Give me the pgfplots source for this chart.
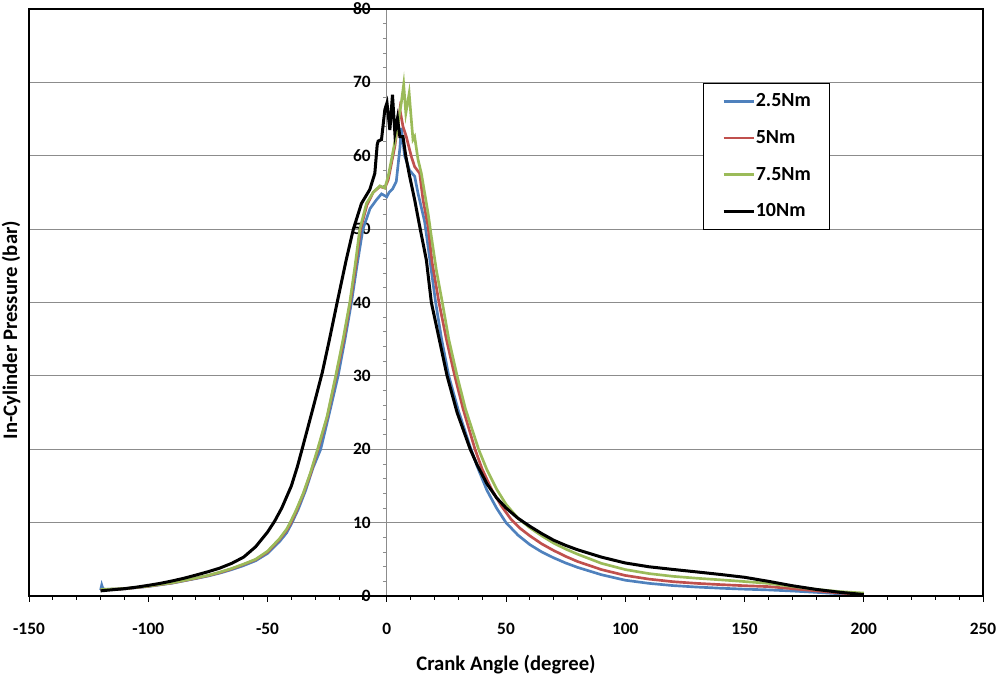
\documentclass[border=0pt]{standalone}
\usepackage{fontspec}
\setmainfont{Carlito}
\usepackage{pgfplots}
\pgfplotsset{compat=1.18}
\usetikzlibrary{calc}
\definecolor{s25}{HTML}{4F81BD}
\definecolor{s50}{HTML}{C0504D}
\definecolor{s75}{HTML}{9BBB59}
\definecolor{gridgray}{HTML}{8C8C8C}
\begin{document}
\begin{tikzpicture}
\begin{axis}[
  scale only axis, width=715.5pt, height=440.25pt,
  xmin=-150, xmax=250, ymin=0, ymax=80,
  axis x line=bottom, axis y line=center,
  hide obscured x ticks=false, hide obscured y ticks=false,
  x axis line style={-, black, line width=1.5pt},
  y axis line style={-, gridgray, line width=0.75pt},
  xtick distance=50, ytick distance=10,
  minor x tick num=4, minor y tick num=4,
  tick align=outside,
  major tick length=4.5pt, minor tick length=3pt,
  x tick style={black, line width=0.75pt},
  y tick style={gridgray, line width=0.6pt},
  ymajorgrids, major grid style={draw=gridgray, line width=0.75pt},
  /pgf/number format/assume math mode=true,
  tick label style={font=\fontsize{13}{15}\selectfont\bfseries},
  xticklabel style={yshift=-12pt},
  yticklabel style={xshift=-4pt},
  xlabel={Crank Angle (degree)},
  ylabel={In-Cylinder Pressure (bar)},
  every axis x label/.style={at={(rel axis cs:0.5,0)}, anchor=north, yshift=-41pt,
    font=\fontsize{15.5}{18}\selectfont\bfseries},
  every axis y label/.style={at={(rel axis cs:0,0.453)}, anchor=south, rotate=90, yshift=3pt,
    font=\fontsize{15.5}{18}\selectfont\bfseries},
  clip mode=individual,
  legend style={at={(rel axis cs:0.7065,0.874)}, anchor=north west,
    draw=black, line width=0.75pt, fill=white,
    font=\fontsize{15}{18}\selectfont\bfseries,
    nodes={inner sep=0pt, text height=11pt, text depth=3pt},
    row sep=13.5pt, inner xsep=14pt, inner ysep=6.5pt,
    cells={anchor=west}},
  legend image code/.code={\draw[#1] (0pt,0pt) -- (23pt,0pt);},
]

% 2.5 Nm
\addplot[s25, line width=2pt] coordinates {
(-120,0.8) (-119.5,1.5) (-119,1.0) (-118,0.9) (-110,0.97) (-100,1.3) (-90,1.75)
(-80,2.38) (-75,2.72) (-70,3.12) (-65,3.6) (-60,4.15) (-55,4.8) (-50,5.8)
(-45,7.4) (-42,8.6) (-39.7,10) (-37,11.9) (-34,14.4) (-31,17.4) (-27.7,20)
(-24,25) (-20.4,30) (-17.5,35) (-14.8,40) (-12.5,45) (-10,50) (-7,52.8)
(-4.3,54) (-2.2,54.8) (0,54.4) (1,55) (2.5,55.5) (4,56.5) (5.5,61) (6.1,63.8)
(7.5,60) (9.6,58) (11.7,57.2) (13.1,54.9) (15.9,51) (18,46) (20.5,40) (23,35)
(26,30) (30,25.3) (35,20.3) (38,17.6) (42,14.4) (46,12) (50,10.0) (55,8.3)
(60,7.0) (65,6.0) (70,5.2) (75,4.5) (80,3.9) (90,2.9) (100,2.15) (110,1.72)
(120,1.42) (130,1.22) (140,1.06) (150,0.93) (160,0.83) (170,0.68) (180,0.5)
(190,0.3) (200,0.15)
};
\addlegendentry{2.5Nm}

% 5 Nm
\addplot[s50, line width=2pt] coordinates {
(-120,0.85) (-110,0.98) (-100,1.33) (-90,1.78) (-80,2.42) (-75,2.77) (-70,3.2)
(-65,3.7) (-60,4.3) (-55,4.95) (-50,6.0) (-45,7.7) (-42,8.95) (-40.3,9.9)
(-38,11.5) (-35,13.9) (-32,16.6) (-28.8,20) (-25,24.3) (-21.2,30) (-18,35)
(-15.3,40) (-13,45) (-11,50) (-8.3,53.3) (-5.7,55) (-2.9,55.8) (-0.8,55.6)
(0.6,56.7) (3.4,61.3) (5.5,66.3) (6.8,64) (8.2,62.6) (10.3,59.9) (11.7,58.5)
(13.8,57.6) (15.2,54) (17.3,50.4) (19,45.5) (21.9,40) (25,35) (28.5,30)
(32,25.5) (37,20) (40,17.3) (44,14.5) (48,12.3) (52,10.5) (56,9.2) (60,8.2)
(65,7.1) (70,6.2) (75,5.4) (80,4.7) (90,3.6) (100,2.8) (110,2.3) (120,1.95)
(130,1.72) (140,1.55) (150,1.4) (160,1.28) (170,1.0) (180,0.7) (190,0.4)
(200,0.2)
};
\addlegendentry{5Nm}

% 7.5 Nm
\addplot[s75, line width=2pt] coordinates {
(-120,0.9) (-110,1.0) (-100,1.35) (-90,1.8) (-80,2.45) (-75,2.8) (-70,3.25)
(-65,3.75) (-60,4.35) (-55,5.0) (-50,6.1) (-45,7.8) (-42,9.1) (-40.5,10)
(-38,11.7) (-35,14.0) (-32,16.8) (-29,20) (-25,24.5) (-21.4,30) (-18.3,35)
(-15.5,40) (-13.3,45) (-11.3,50) (-8.5,53.5) (-5.7,55) (-2.9,55.9) (-0.8,55.6)
(0.6,57.2) (2,59.5) (4.1,63.1) (6.1,67.2) (7.1,69.7) (8,65.8) (9.4,68.5)
(10.3,64.9) (11,62.2) (11.7,62.6) (13.1,59.5) (14.5,57.6) (15.9,54.9)
(17.3,52.2) (18.7,49) (20.8,44.4) (23.3,40) (26,35) (29.5,30) (33,25.5)
(38.5,20) (42,17.2) (46,14.6) (50,12.5) (55,10.6) (60,9.3) (65,8.2) (70,7.2)
(75,6.4) (80,5.7) (90,4.45) (100,3.6) (110,3.05) (120,2.68) (130,2.42)
(140,2.2) (150,1.97) (160,1.72) (170,1.3) (180,0.9) (190,0.6) (200,0.4)
};
\addlegendentry{7.5Nm}

% 10 Nm
\addplot[black, line width=2.25pt] coordinates {
(-120,0.7) (-115,0.85) (-110,1.0) (-105,1.2) (-100,1.45) (-95,1.72) (-90,2.05)
(-85,2.42) (-80,2.85) (-75,3.3) (-70,3.8) (-65,4.45) (-60,5.3) (-55,6.7)
(-50,8.7) (-47,10.2) (-44,12.0) (-40,15.0) (-37.5,17.6) (-35.5,20) (-31,25.5)
(-27,30.5) (-24,35) (-20.8,40) (-17,45.8) (-14,50) (-10.6,53.5) (-7.1,55.4)
(-5,57.6) (-4,61.5) (-3.6,62) (-2.2,62.2) (-0.8,66.3) (0.1,67.2) (1.3,63.5)
(2.4,68.3) (3.4,63.1) (4.5,65.1) (5.5,62.6) (6.8,62.6) (8,59.9) (9.6,57.2)
(11.7,54) (13.8,50.4) (16.6,45.8) (18.7,40) (22,35) (25.3,30) (29.5,25)
(35,20) (38,17.8) (42,15.3) (46,13.4) (50,12.0) (55,10.6) (60,9.5) (65,8.5)
(70,7.6) (75,6.9) (80,6.3) (90,5.3) (100,4.5) (110,3.98) (120,3.62)
(130,3.28) (140,2.93) (150,2.55) (160,2.0) (170,1.4) (180,0.9) (190,0.5)
(200,0.2)
};
\addlegendentry{10Nm}

\draw[black, line width=1.5pt] (rel axis cs:0,0) rectangle (rel axis cs:1,1);
\coordinate (fsw) at (rel axis cs:0,0);
\coordinate (fne) at (rel axis cs:1,1);
\end{axis}
\pgfresetboundingbox
\path ($(fsw)+(-21.75pt,-60pt)$) rectangle ($(fne)+(14.25pt,6.75pt)$);
\end{tikzpicture}
\end{document}
